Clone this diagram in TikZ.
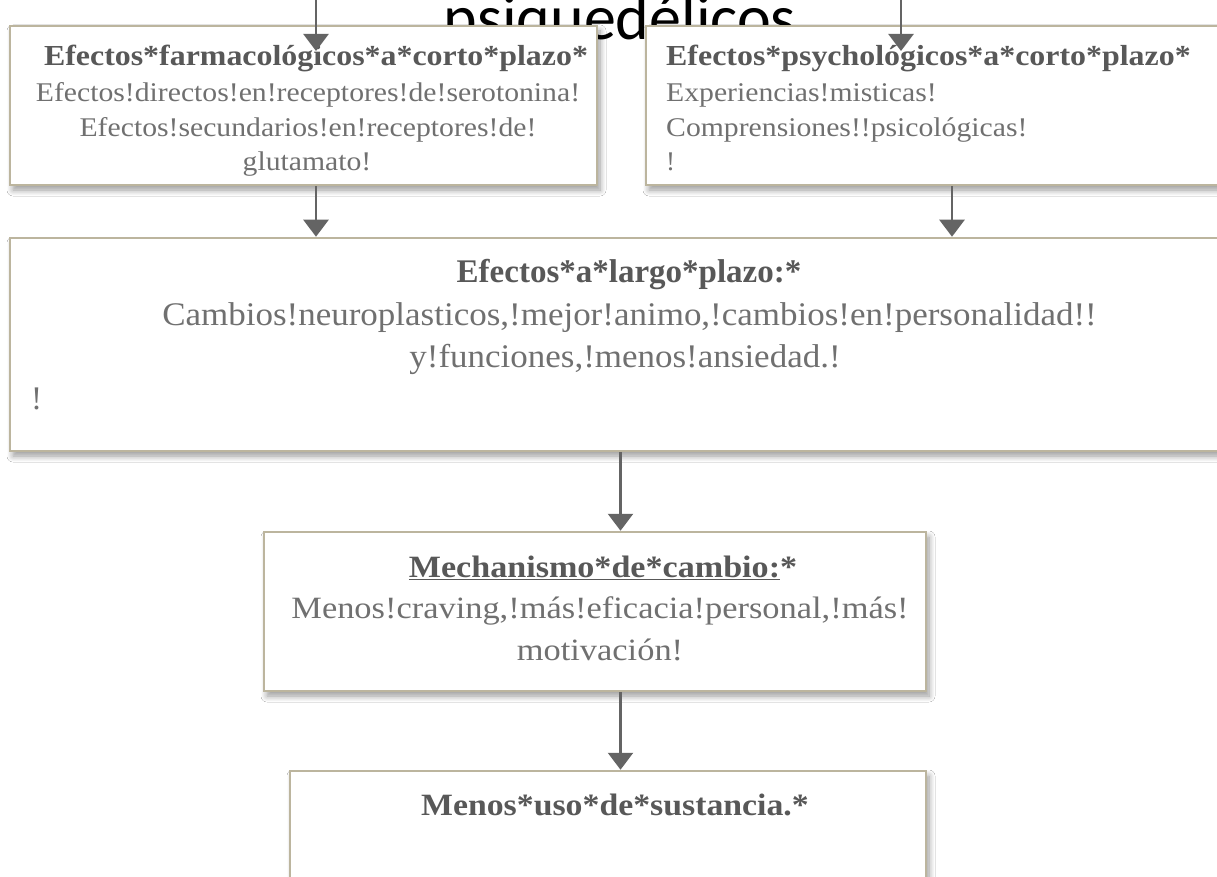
\documentclass[tikz,border=0pt]{standalone}
\usepackage{fontspec}
\setmainfont{Liberation Serif}
\newfontfamily\calfont{Carlito}
\usetikzlibrary{arrows.meta,shadows.blur}
\definecolor{bordc}{RGB}{188,181,158}
\definecolor{txtc}{RGB}{112,112,112}
\definecolor{ttlc}{RGB}{88,88,88}
\definecolor{arrc}{RGB}{100,100,100}
\newcommand\fsz[1]{\fontsize{#1}{#1}\selectfont}
\newcommand\sx[2]{\scalebox{#1}[1]{#2}}
\begin{document}
\begin{tikzpicture}[x=1pt,y=-1pt,
  box/.style={draw=bordc,line width=2.5pt,fill=white,inner sep=0pt,
    blur shadow={shadow xshift=3pt,shadow yshift=-5pt,shadow blur radius=6pt,shadow blur steps=8,shadow opacity=40}},
  body/.style={inner sep=0pt,anchor=base,text=txtc},
  ttl/.style={inner sep=0pt,anchor=base,text=ttlc},
  arr/.style={draw=arrc,line width=2.5pt,-{Triangle[width=25pt,length=17pt]}}]
\useasboundingbox (0,0) rectangle (1217,877);
\clip (0,0) rectangle (1217,877);
\fill[white] (0,0) rectangle (1217,877);
% title behind boxes
\node[inner sep=0pt,anchor=base,font=\calfont\fsz{64}] (head) at (620,40) {psiquedélicos};
% boxes
\node[box,minimum width=587pt,minimum height=159pt] (b1) at (303.5,105.5) {};
\node[box,minimum width=600pt,minimum height=159pt] (b2) at (946,105.5) {};
\node[box,minimum width=1240pt,minimum height=213pt] (b3) at (630,344.5) {};
\node[box,minimum width=662pt,minimum height=159pt] (b4) at (595,611.5) {};
\node[box,minimum width=636pt,minimum height=140pt] (b5) at (608,841) {};
% box 1 text
\node[ttl,font=\bfseries\fsz{29}] (t1a) at (316,66) {\sx{1.10}{Efectos*farmacológicos*a*corto*plazo*}};
\node[body,font=\fsz{27}] (t1b) at (308,102) {\sx{1.10}{Efectos!directos!en!receptores!de!serotonina!}};
\node[body,font=\fsz{27}] (t1c) at (308,137) {\sx{1.10}{Efectos!secundarios!en!receptores!de!}};
\node[body,font=\fsz{27}] (t1d) at (307,171) {\sx{1.10}{glutamato!}};
% box 2 text
\node[ttl,anchor=base west,font=\bfseries\fsz{29}] (t2a) at (666,66) {\sx{1.10}{Efectos*psychológicos*a*corto*plazo*}};
\node[body,anchor=base west,font=\fsz{27}] (t2b) at (666,102) {\sx{1.10}{Experiencias!misticas!}};
\node[body,anchor=base west,font=\fsz{27}] (t2c) at (666,137) {\sx{1.10}{Comprensiones!!psicológicas!}};
\node[body,anchor=base west,font=\fsz{27}] (t2d) at (666,171) {!};
% box 3 text
\node[ttl,font=\bfseries\fsz{33}] (t3a) at (629,282) {Efectos*a*largo*plazo:*};
\node[body,font=\fsz{33}] (t3b) at (629.5,325) {\sx{1.06}{Cambios!neuroplasticos,!mejor!animo,!cambios!en!personalidad!!}};
\node[body,font=\fsz{33}] (t3c) at (625,367) {\sx{1.06}{y!funciones,!menos!ansiedad.!}};
\node[body,anchor=base west,font=\fsz{33}] (t3d) at (31,409) {!};
% box 4 text
\node[ttl,font=\bfseries\fsz{31}] (t4a) at (603,577) {\sx{1.10}{\underline{Mechanismo*de*cambio:}*}};
\node[body,font=\fsz{31}] (t4b) at (600,618) {\sx{1.11}{Menos!craving,!más!eficacia!personal,!más!}};
\node[body,font=\fsz{31}] (t4c) at (600,660) {\sx{1.11}{motivación!}};
% box 5 text
\node[ttl,font=\bfseries\fsz{31}] (t5a) at (615,815) {\sx{1.09}{Menos*uso*de*sustancia.*}};
% connectors
\coordinate (s1) at (316,0);
\coordinate (e1) at (316,51);
\coordinate (s2) at (901,0);
\coordinate (e2) at (901,51);
\coordinate (x13) at (316,0);
\coordinate (x23) at (952,0);
\coordinate (x34) at (620.5,0);
\draw[arr] (s1) -- (e1);
\draw[arr] (s2) -- (e2);
\draw[arr] (b1.south -| x13) -- (b3.north -| x13);
\draw[arr] (b2.south -| x23) -- (b3.north -| x23);
\draw[arr] (b3.south -| x34) -- (b4.north -| x34);
\draw[arr] (b4.south -| x34) -- (b5.north -| x34);
\end{tikzpicture}
\end{document}
